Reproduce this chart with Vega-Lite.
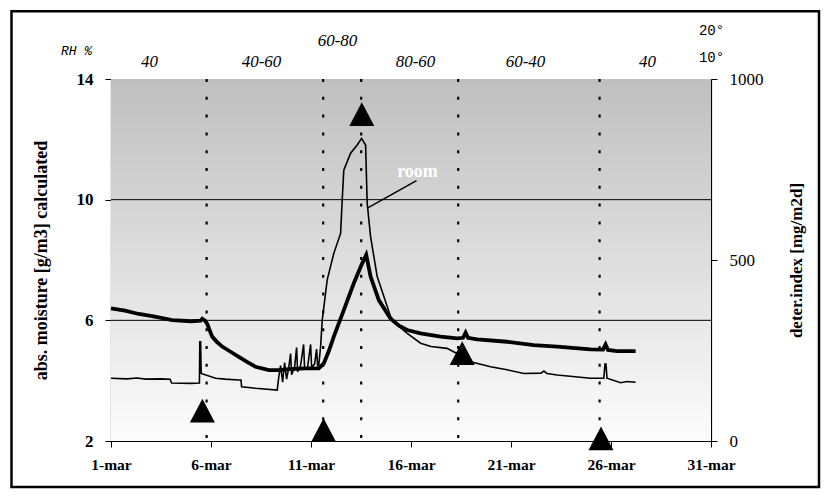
{
  "$schema": "https://vega.github.io/schema/vega-lite/v6.json",
  "width": 600,
  "height": 362,
  "autosize": "none",
  "padding": {"left": 111, "top": 79, "right": 118, "bottom": 56},
  "background": "white",
  "config": {
    "view": {"stroke": "#8c8c8c", "strokeWidth": 1},
    "axis": {"labelFont": "Liberation Serif", "titleFont": "Liberation Serif", "labelColor": "black", "titleColor": "black", "tickColor": "black", "domainColor": "black", "grid": false}
  },
  "datasets": {
    "room": [
      {"day": 1.0, "v": 4.08}, {"day": 1.8, "v": 4.06}, {"day": 2.3, "v": 4.09}, {"day": 2.73, "v": 4.05}, {"day": 3.5, "v": 4.06},
      {"day": 3.95, "v": 4.05}, {"day": 4.03, "v": 3.92}, {"day": 5.0, "v": 3.91}, {"day": 5.42, "v": 3.92}, {"day": 5.44, "v": 5.29},
      {"day": 5.48, "v": 5.29}, {"day": 5.51, "v": 4.24}, {"day": 6.23, "v": 4.08}, {"day": 6.7, "v": 4.05}, {"day": 7.39, "v": 4.02},
      {"day": 7.5, "v": 4.02}, {"day": 7.53, "v": 3.8}, {"day": 8.23, "v": 3.75}, {"day": 9.31, "v": 3.69}, {"day": 9.39, "v": 4.13},
      {"day": 9.48, "v": 4.5}, {"day": 9.58, "v": 3.95}, {"day": 9.68, "v": 4.6}, {"day": 9.78, "v": 4.05}, {"day": 9.88, "v": 4.4},
      {"day": 9.98, "v": 4.9}, {"day": 10.03, "v": 4.2}, {"day": 10.18, "v": 4.45}, {"day": 10.28, "v": 5.1}, {"day": 10.33, "v": 4.3},
      {"day": 10.48, "v": 4.5}, {"day": 10.63, "v": 5.2}, {"day": 10.68, "v": 4.4}, {"day": 10.83, "v": 4.45}, {"day": 10.98, "v": 5.2},
      {"day": 11.03, "v": 4.45}, {"day": 11.18, "v": 4.55}, {"day": 11.28, "v": 5.05}, {"day": 11.33, "v": 4.5}, {"day": 11.39, "v": 4.52},
      {"day": 11.48, "v": 5.13}, {"day": 11.56, "v": 6.0}, {"day": 11.81, "v": 7.34}, {"day": 12.14, "v": 8.22}, {"day": 12.48, "v": 8.88},
      {"day": 12.56, "v": 9.99}, {"day": 12.64, "v": 10.98}, {"day": 12.98, "v": 11.54}, {"day": 13.31, "v": 11.81}, {"day": 13.53, "v": 12.03},
      {"day": 13.73, "v": 11.81}, {"day": 13.81, "v": 9.88}, {"day": 13.98, "v": 8.77}, {"day": 14.31, "v": 7.45}, {"day": 14.98, "v": 6.12},
      {"day": 15.4, "v": 5.8}, {"day": 15.81, "v": 5.57}, {"day": 16.48, "v": 5.24}, {"day": 17.0, "v": 5.13}, {"day": 17.8, "v": 5.07},
      {"day": 18.3, "v": 4.9}, {"day": 18.98, "v": 4.63}, {"day": 19.98, "v": 4.46}, {"day": 20.8, "v": 4.36}, {"day": 21.64, "v": 4.24},
      {"day": 22.5, "v": 4.25}, {"day": 22.64, "v": 4.32}, {"day": 22.8, "v": 4.24}, {"day": 23.31, "v": 4.19}, {"day": 24.98, "v": 4.08},
      {"day": 25.64, "v": 4.08}, {"day": 25.7, "v": 4.55}, {"day": 25.75, "v": 4.55}, {"day": 25.8, "v": 4.08}, {"day": 26.48, "v": 3.93},
      {"day": 26.8, "v": 3.97}, {"day": 27.23, "v": 3.95}
    ],
    "showcase": [
      {"day": 1.0, "v": 6.4}, {"day": 1.7, "v": 6.32}, {"day": 2.39, "v": 6.21}, {"day": 3.2, "v": 6.12}, {"day": 4.06, "v": 6.01},
      {"day": 5.0, "v": 5.97}, {"day": 5.48, "v": 5.99}, {"day": 5.56, "v": 6.05}, {"day": 5.7, "v": 5.99}, {"day": 5.81, "v": 5.88},
      {"day": 6.06, "v": 5.46}, {"day": 6.3, "v": 5.28}, {"day": 6.56, "v": 5.13}, {"day": 7.0, "v": 4.95}, {"day": 7.39, "v": 4.79},
      {"day": 7.8, "v": 4.62}, {"day": 8.23, "v": 4.46}, {"day": 8.89, "v": 4.35}, {"day": 9.39, "v": 4.35}, {"day": 9.9, "v": 4.38},
      {"day": 10.73, "v": 4.41}, {"day": 11.39, "v": 4.41}, {"day": 11.64, "v": 4.57}, {"day": 11.9, "v": 5.0}, {"day": 12.14, "v": 5.46},
      {"day": 12.64, "v": 6.34}, {"day": 13.14, "v": 7.23}, {"day": 13.56, "v": 7.89}, {"day": 13.76, "v": 8.17}, {"day": 13.98, "v": 7.45},
      {"day": 14.39, "v": 6.67}, {"day": 14.98, "v": 6.05}, {"day": 15.4, "v": 5.82}, {"day": 15.81, "v": 5.68}, {"day": 16.48, "v": 5.57},
      {"day": 17.48, "v": 5.46}, {"day": 18.31, "v": 5.4}, {"day": 18.6, "v": 5.42}, {"day": 18.73, "v": 5.59}, {"day": 18.85, "v": 5.42},
      {"day": 19.31, "v": 5.37}, {"day": 20.81, "v": 5.29}, {"day": 22.14, "v": 5.18}, {"day": 23.31, "v": 5.13}, {"day": 24.98, "v": 5.04},
      {"day": 25.6, "v": 5.03}, {"day": 25.73, "v": 5.2}, {"day": 25.85, "v": 5.02}, {"day": 26.31, "v": 4.98}, {"day": 27.23, "v": 4.98}
    ],
    "triangles": [
      {"day": 5.57, "idx": 84}, {"day": 11.63, "idx": 30}, {"day": 13.54, "idx": 903}, {"day": 18.56, "idx": 243}, {"day": 25.5, "idx": 7}
    ],
    "dotted": [
      {"day": 5.78}, {"day": 11.61}, {"day": 13.51}, {"day": 18.36}, {"day": 25.43}
    ],
    "grid": [{"g": 6}, {"g": 10}],
    "rh": [
      {"day": 2.925, "v": 14.56, "label": "40"},
      {"day": 8.525, "v": 14.56, "label": "40-60"},
      {"day": 12.325, "v": 15.26, "label": "60-80"},
      {"day": 16.225, "v": 14.56, "label": "80-60"},
      {"day": 21.725, "v": 14.56, "label": "60-40"},
      {"day": 27.825, "v": 14.56, "label": "40"}
    ],
    "rhhead": [
      {"day": -0.725, "v": 14.93, "label": "RH %"}
    ],
    "temp": [
      {"day": 31.025, "v": 15.59, "label": "20°"},
      {"day": 31.025, "v": 14.7, "label": "10°"}
    ]
  },
  "layer": [
    {
      "layer": [
        {
          "data": {"values": [{}]},
          "mark": {"type": "rect", "filled": false, "stroke": "black", "strokeWidth": 2.5, "clip": false},
          "encoding": {
            "x": {"datum": -3.975, "type": "quantitative", "scale": {"domain": [1, 31], "nice": false, "zero": false}},
            "x2": {"datum": 36.4},
            "y": {"datum": 16.25, "type": "quantitative", "scale": {"domain": [2, 14], "nice": false, "zero": false}},
            "y2": {"datum": 0.475}
          }
        },
        {
          "data": {"values": [{}]},
          "mark": {"type": "rect", "strokeWidth": 0, "fill": {"gradient": "linear", "x1": 0, "y1": 0, "x2": 0, "y2": 1, "stops": [{"offset": 0, "color": "#bfbfbf"}, {"offset": 1, "color": "#fcfcfc"}]}},
          "encoding": {
            "x": {"datum": 1, "type": "quantitative", "scale": {"domain": [1, 31], "nice": false, "zero": false}},
            "x2": {"datum": 31},
            "y": {"datum": 14, "type": "quantitative", "scale": {"domain": [2, 14], "nice": false, "zero": false}},
            "y2": {"datum": 2}
          }
        },
        {
          "data": {"name": "grid"},
          "mark": {"type": "rule", "color": "black", "strokeWidth": 1},
          "encoding": {
            "y": {"field": "g", "type": "quantitative", "scale": {"domain": [2, 14], "nice": false, "zero": false}}
          }
        },
        {
          "data": {"name": "dotted"},
          "mark": {"type": "rule", "color": "black", "strokeWidth": 2.2, "strokeDash": [3, 14.8]},
          "encoding": {
            "x": {"field": "day", "type": "quantitative", "scale": {"domain": [1, 31], "nice": false, "zero": false}}
          }
        },
        {
          "data": {"name": "room"},
          "mark": {"type": "line", "color": "black", "strokeWidth": 1.6},
          "encoding": {
            "x": {"field": "day", "type": "quantitative", "scale": {"domain": [1, 31], "nice": false, "zero": false}},
            "y": {"field": "v", "type": "quantitative", "scale": {"domain": [2, 14], "nice": false, "zero": false}}
          }
        },
        {
          "data": {"name": "showcase"},
          "mark": {"type": "line", "color": "black", "strokeWidth": 3.8},
          "encoding": {
            "x": {
              "field": "day", "type": "quantitative",
              "scale": {"domain": [1, 31], "nice": false, "zero": false},
              "axis": {"orient": "bottom", "values": [1, 6, 11, 16, 21, 26, 31], "labelExpr": "datum.value + '-mar'", "title": null, "labelFontSize": 15.5, "labelFontWeight": "bold", "tickSize": 6, "labelPadding": 10, "domainWidth": 1.2, "labelFlush": false, "labelOverlap": false}
            },
            "y": {
              "field": "v", "type": "quantitative",
              "scale": {"domain": [2, 14], "nice": false, "zero": false},
              "axis": {"orient": "left", "values": [2, 6, 10, 14], "title": "abs. moisture [g/m3] calculated", "titleFontSize": 18, "titleFontWeight": "bold", "titlePadding": 26, "labelFontSize": 17, "labelFontWeight": "bold", "tickSize": 6, "labelPadding": 12, "domainWidth": 1.2, "labelFlush": false, "labelOverlap": false}
            }
          }
        },
        {
          "data": {"values": [{}]},
          "mark": {"type": "rule", "color": "black", "strokeWidth": 1.5},
          "encoding": {
            "x": {"datum": 16.275, "type": "quantitative", "scale": {"domain": [1, 31], "nice": false, "zero": false}},
            "x2": {"datum": 13.84},
            "y": {"datum": 10.63, "type": "quantitative", "scale": {"domain": [2, 14], "nice": false, "zero": false}},
            "y2": {"datum": 9.73}
          }
        },
        {
          "data": {"values": [{}]},
          "mark": {"type": "text", "text": "room", "font": "Liberation Serif", "fontWeight": "bold", "fontSize": 18, "color": "white"},
          "encoding": {
            "x": {"datum": 16.325, "type": "quantitative", "scale": {"domain": [1, 31], "nice": false, "zero": false}},
            "y": {"datum": 10.93, "type": "quantitative", "scale": {"domain": [2, 14], "nice": false, "zero": false}}
          }
        },
        {
          "data": {"name": "rh"},
          "mark": {"type": "text", "font": "Liberation Serif", "fontStyle": "italic", "fontSize": 17, "color": "black"},
          "encoding": {
            "x": {"field": "day", "type": "quantitative", "scale": {"domain": [1, 31], "nice": false, "zero": false}},
            "y": {"field": "v", "type": "quantitative", "scale": {"domain": [2, 14], "nice": false, "zero": false}},
            "text": {"field": "label"}
          }
        },
        {
          "data": {"name": "rhhead"},
          "mark": {"type": "text", "font": "Liberation Mono", "fontStyle": "italic", "fontSize": 13, "color": "black"},
          "encoding": {
            "x": {"field": "day", "type": "quantitative", "scale": {"domain": [1, 31], "nice": false, "zero": false}},
            "y": {"field": "v", "type": "quantitative", "scale": {"domain": [2, 14], "nice": false, "zero": false}},
            "text": {"field": "label"}
          }
        },
        {
          "data": {"name": "temp"},
          "mark": {"type": "text", "font": "Liberation Mono", "fontSize": 14, "color": "black"},
          "encoding": {
            "x": {"field": "day", "type": "quantitative", "scale": {"domain": [1, 31], "nice": false, "zero": false}},
            "y": {"field": "v", "type": "quantitative", "scale": {"domain": [2, 14], "nice": false, "zero": false}},
            "text": {"field": "label"}
          }
        }
      ]
    },
    {
      "data": {"name": "triangles"},
      "mark": {"type": "point", "shape": "M0,-0.95L1,0.95L-1,0.95Z", "filled": true, "color": "black", "opacity": 1, "size": 625},
      "encoding": {
        "x": {"field": "day", "type": "quantitative", "scale": {"domain": [1, 31], "nice": false, "zero": false}},
        "y": {
          "field": "idx", "type": "quantitative",
          "scale": {"domain": [0, 1000], "nice": false, "zero": false},
          "axis": {"orient": "right", "values": [0, 500, 1000], "format": "d", "title": "deter.index [mg/m2d]", "titleAngle": 270, "titleBaseline": "top", "titleFontSize": 17, "titleFontWeight": "bold", "titlePadding": 25, "labelFontSize": 17, "labelFontWeight": "normal", "tickSize": 6, "labelPadding": 12, "domainWidth": 1.2, "labelFlush": false, "labelOverlap": false}
        }
      }
    }
  ],
  "resolve": {"scale": {"y": "independent"}, "axis": {"y": "independent"}}
}
